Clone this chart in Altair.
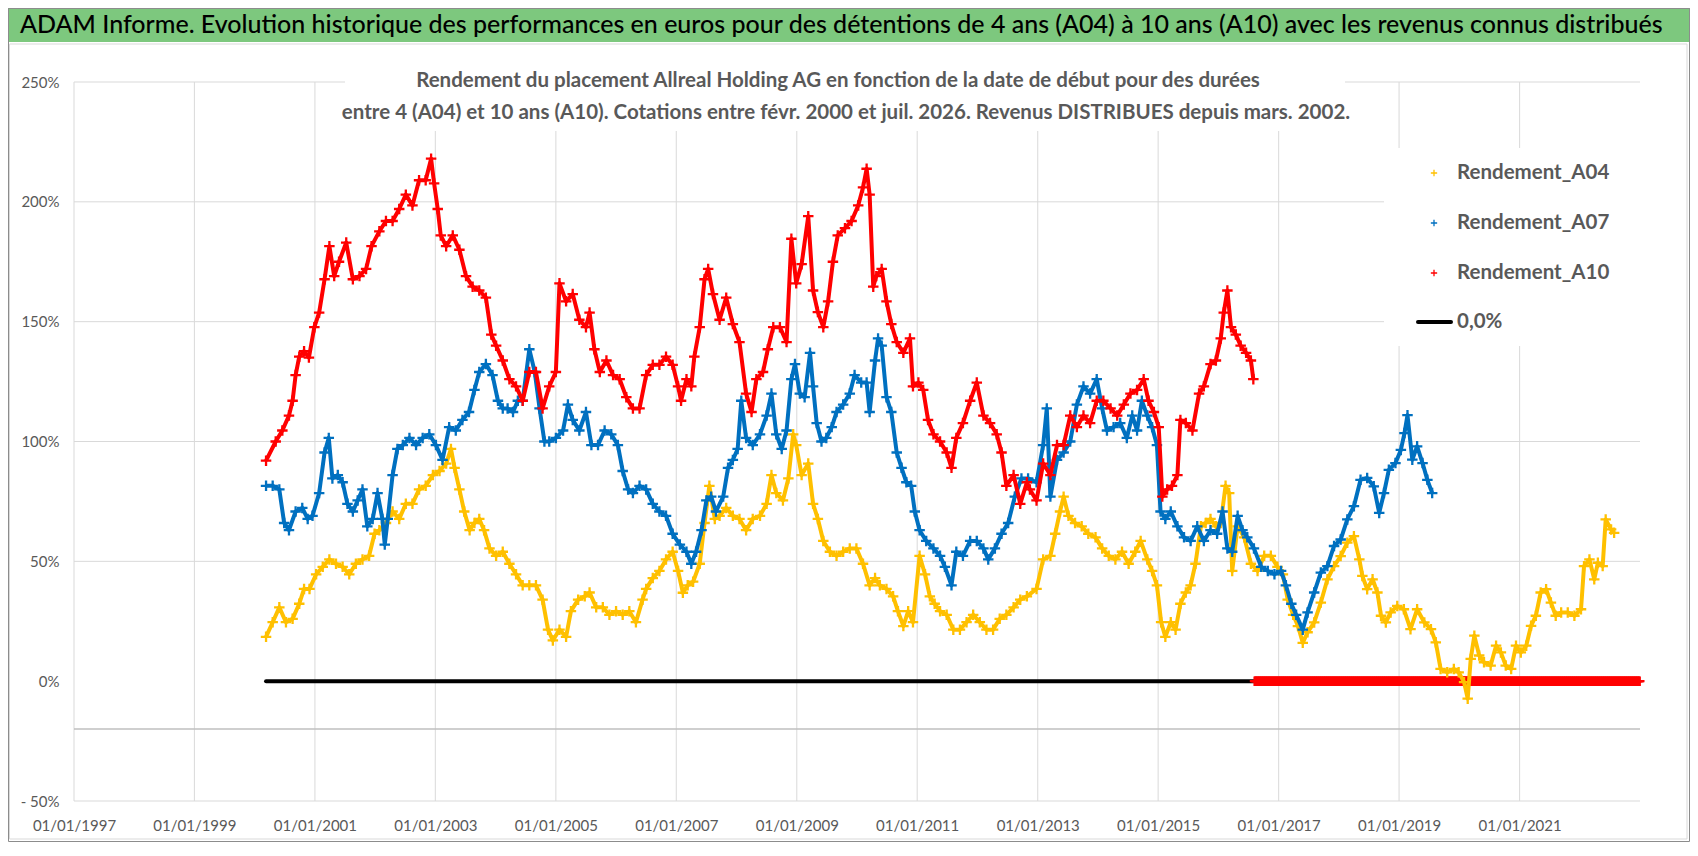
import altair as alt
import pandas as pd

# ---------------- data (decimal year, % return) ----------------
A04_t = [2000.19, 2000.30, 2000.41, 2000.52, 2000.63, 2000.74, 2000.82, 2000.91, 2001.02, 2001.13,
         2001.24, 2001.35, 2001.46, 2001.57, 2001.68, 2001.79, 2001.90, 2001.99, 2002.07, 2002.18,
         2002.29, 2002.40, 2002.51, 2002.62, 2002.73, 2002.84, 2002.96, 2003.07, 2003.18, 2003.26,
         2003.32, 2003.40, 2003.48, 2003.57, 2003.65, 2003.73, 2003.81, 2003.90, 2004.01, 2004.12,
         2004.23, 2004.34, 2004.45, 2004.56, 2004.67, 2004.78, 2004.87, 2004.95, 2005.06, 2005.17,
         2005.25, 2005.37, 2005.48, 2005.56, 2005.67, 2005.78, 2005.89, 2006.00, 2006.11, 2006.22,
         2006.33, 2006.44, 2006.50, 2006.61, 2006.72, 2006.83, 2006.94, 2007.03, 2007.11, 2007.19,
         2007.28, 2007.39, 2007.47, 2007.55, 2007.64, 2007.72, 2007.83, 2007.94, 2008.05, 2008.16,
         2008.27, 2008.39, 2008.50, 2008.58, 2008.66, 2008.77, 2008.86, 2008.94, 2008.99, 2009.08,
         2009.19, 2009.27, 2009.35, 2009.44, 2009.55, 2009.66, 2009.77, 2009.88, 2009.99, 2010.10,
         2010.21, 2010.30, 2010.38, 2010.49, 2010.60, 2010.68, 2010.77, 2010.85, 2010.93, 2011.04,
         2011.13, 2011.21, 2011.29, 2011.38, 2011.49, 2011.60, 2011.71, 2011.82, 2011.93, 2012.04,
         2012.15, 2012.26, 2012.37, 2012.48, 2012.60, 2012.71, 2012.82, 2012.98, 2013.09, 2013.21,
         2013.29, 2013.37, 2013.43, 2013.51, 2013.62, 2013.73, 2013.84, 2013.96, 2014.07, 2014.18,
         2014.29, 2014.40, 2014.51, 2014.62, 2014.71, 2014.82, 2014.90, 2014.98, 2015.05, 2015.12,
         2015.21, 2015.29, 2015.37, 2015.46, 2015.54, 2015.62, 2015.71, 2015.79, 2015.87, 2015.96,
         2016.04, 2016.12, 2016.18, 2016.23, 2016.32, 2016.43, 2016.54, 2016.65, 2016.76, 2016.87,
         2016.98, 2017.07, 2017.15, 2017.24, 2017.32, 2017.40, 2017.48, 2017.59, 2017.70, 2017.81,
         2017.92, 2018.03, 2018.14, 2018.25, 2018.34, 2018.39, 2018.47, 2018.56, 2018.64, 2018.70,
         2018.78, 2018.86, 2018.97, 2019.08, 2019.19, 2019.30, 2019.42, 2019.53, 2019.61, 2019.69,
         2019.80, 2019.91, 2019.99, 2020.08, 2020.14, 2020.19, 2020.25, 2020.33, 2020.41, 2020.52,
         2020.61, 2020.69, 2020.77, 2020.86, 2020.94, 2021.02, 2021.11, 2021.19, 2021.27, 2021.35,
         2021.44, 2021.52, 2021.60, 2021.69, 2021.80, 2021.91, 2022.02, 2022.07, 2022.16, 2022.24,
         2022.30, 2022.38, 2022.43, 2022.52, 2022.57]
A04_v = [18.5, 24.6, 30.8, 24.6, 26.0, 32.3, 38.5, 38.5, 44.6, 47.7,
         50.8, 49.0, 47.7, 44.6, 49.0, 50.8, 52.3, 61.5, 63.0, 66.0,
         70.8, 67.7, 74.0, 74.0, 80.0, 81.5, 86.0, 87.7, 90.8, 96.9,
         89.0, 80.0, 70.8, 63.0, 66.0, 67.7, 63.0, 55.4, 52.3, 54.0,
         49.0, 44.6, 40.0, 40.0, 40.0, 34.0, 21.5, 17.0, 21.5, 18.5,
         29.2, 34.0, 35.4, 37.0, 30.8, 30.8, 27.7, 29.2, 27.7, 29.2,
         24.6, 34.0, 38.5, 43.0, 46.0, 50.8, 54.0, 46.0, 36.9, 40.0,
         41.5, 49.0, 66.0, 81.5, 67.7, 69.0, 72.3, 69.0, 67.7, 63.0,
         67.7, 69.0, 74.0, 86.0, 78.5, 75.4, 84.6, 103.0, 98.5, 86.0,
         90.8, 74.0, 67.7, 58.5, 54.0, 52.3, 54.0, 55.4, 55.4, 49.0,
         40.0, 43.0, 40.0, 38.5, 35.4, 29.2, 23.0, 29.2, 24.6, 52.3,
         44.6, 35.4, 32.3, 29.2, 27.7, 21.5, 21.5, 24.6, 27.7, 24.6,
         21.5, 21.5, 26.0, 27.7, 30.8, 34.0, 35.4, 38.5, 50.8, 52.3,
         61.5, 70.8, 77.0, 69.0, 66.0, 64.6, 61.5, 60.0, 55.4, 52.3,
         50.8, 54.0, 49.0, 54.0, 58.5, 50.8, 46.0, 40.0, 24.6, 18.5,
         24.6, 21.5, 32.3, 37.0, 40.0, 49.0, 64.6, 66.0, 67.7, 64.6,
         66.0, 81.5, 78.5, 46.0, 64.6, 60.0, 49.0, 46.0, 52.3, 52.3,
         47.7, 44.6, 34.0, 27.7, 23.0, 16.0, 20.4, 24.5, 32.8, 42.5,
         48.0, 52.2, 57.8, 60.5, 50.8, 43.9, 38.4, 42.5, 37.0, 27.3,
         24.5, 28.7, 31.4, 30.0, 21.7, 30.0, 24.5, 21.7, 16.2, 5.1,
         3.7, 5.1, 3.7, -0.4, -7.3, 9.3, 19.0, 10.7, 7.9, 6.5,
         14.8, 12.0, 6.5, 5.1, 14.8, 12.0, 14.8, 23.1, 27.3, 37.0,
         38.4, 32.8, 27.3, 28.7, 28.7, 27.3, 30.0, 48.0, 50.8, 42.5,
         49.4, 48.0, 67.5, 63.3, 61.9]

A07_t = [2000.19, 2000.30, 2000.41, 2000.49, 2000.57, 2000.68, 2000.79, 2000.88, 2000.96, 2001.07,
         2001.16, 2001.23, 2001.29, 2001.38, 2001.46, 2001.54, 2001.63, 2001.71, 2001.79, 2001.87,
         2001.96, 2002.04, 2002.12, 2002.16, 2002.21, 2002.29, 2002.37, 2002.46, 2002.57, 2002.68,
         2002.79, 2002.90, 2003.01, 2003.12, 2003.23, 2003.34, 2003.45, 2003.56, 2003.65, 2003.73,
         2003.84, 2003.95, 2004.04, 2004.12, 2004.20, 2004.29, 2004.37, 2004.45, 2004.56, 2004.65,
         2004.73, 2004.81, 2004.89, 2005.00, 2005.12, 2005.20, 2005.28, 2005.39, 2005.50, 2005.59,
         2005.70, 2005.81, 2005.92, 2006.03, 2006.11, 2006.20, 2006.28, 2006.39, 2006.50, 2006.61,
         2006.72, 2006.83, 2006.94, 2007.06, 2007.17, 2007.25, 2007.33, 2007.42, 2007.50, 2007.58,
         2007.66, 2007.78, 2007.86, 2007.94, 2008.02, 2008.08, 2008.16, 2008.27, 2008.39, 2008.50,
         2008.58, 2008.66, 2008.75, 2008.83, 2008.91, 2008.97, 2009.05, 2009.13, 2009.22, 2009.27,
         2009.33, 2009.41, 2009.49, 2009.58, 2009.66, 2009.77, 2009.88, 2009.96, 2010.07, 2010.16,
         2010.21, 2010.30, 2010.35, 2010.41, 2010.49, 2010.57, 2010.66, 2010.74, 2010.82, 2010.90,
         2010.96, 2011.04, 2011.15, 2011.27, 2011.38, 2011.46, 2011.57, 2011.65, 2011.76, 2011.88,
         2011.99, 2012.10, 2012.18, 2012.29, 2012.40, 2012.51, 2012.62, 2012.73, 2012.84, 2012.98,
         2013.09, 2013.15, 2013.21, 2013.32, 2013.43, 2013.54, 2013.65, 2013.76, 2013.87, 2013.98,
         2014.07, 2014.15, 2014.26, 2014.37, 2014.48, 2014.57, 2014.65, 2014.73, 2014.82, 2014.90,
         2014.98, 2015.04, 2015.12, 2015.21, 2015.32, 2015.43, 2015.54, 2015.65, 2015.76, 2015.87,
         2015.98, 2016.07, 2016.15, 2016.23, 2016.32, 2016.40, 2016.48, 2016.59, 2016.71, 2016.82,
         2016.93, 2017.04, 2017.12, 2017.21, 2017.29, 2017.40, 2017.48, 2017.59, 2017.70, 2017.81,
         2017.92, 2018.03, 2018.14, 2018.25, 2018.36, 2018.47, 2018.58, 2018.67, 2018.75, 2018.83,
         2018.94, 2019.03, 2019.09, 2019.14, 2019.22, 2019.30, 2019.39, 2019.47, 2019.55]
A07_v = [81.5, 81.5, 80.0, 66.0, 63.0, 70.8, 72.3, 67.7, 69.0, 78.5,
         95.4, 101.5, 84.6, 86.0, 83.0, 74.0, 70.8, 75.4, 80.0, 64.6,
         67.7, 78.5, 67.7, 57.0, 67.7, 86.0, 96.9, 98.5, 101.5, 98.5,
         101.5, 103.0, 98.5, 92.3, 106.0, 104.6, 109.0, 112.3, 121.5, 129.0,
         132.3, 127.7, 117.0, 113.8, 113.8, 112.3, 117.0, 117.0, 138.5, 129.0,
         113.8, 100.0, 100.0, 101.5, 104.6, 115.4, 109.0, 104.6, 112.3, 98.5,
         98.5, 104.6, 103.0, 98.5, 87.7, 80.0, 78.5, 81.5, 80.0, 74.0,
         70.8, 69.0, 61.5, 57.0, 54.0, 49.0, 54.0, 63.0, 75.4, 77.0,
         70.8, 77.0, 89.0, 92.3, 96.9, 117.0, 101.5, 98.5, 103.0, 110.8,
         120.0, 103.0, 96.9, 104.6, 126.0, 132.3, 120.0, 118.5, 137.0, 123.0,
         107.7, 100.0, 101.5, 106.0, 112.3, 115.4, 120.0, 127.7, 124.6, 124.6,
         112.3, 133.8, 143.0, 140.0, 118.5, 112.3, 95.4, 89.0, 83.0, 81.5,
         70.8, 63.0, 58.5, 55.4, 52.3, 47.7, 40.0, 54.0, 52.3, 58.5,
         58.5, 55.4, 50.8, 55.4, 61.5, 66.0, 77.0, 84.6, 84.6, 83.0,
         98.5, 113.8, 77.0, 92.3, 95.4, 100.0, 115.4, 123.0, 120.0, 126.0,
         113.8, 104.6, 106.0, 107.7, 101.5, 110.8, 104.6, 117.0, 110.8, 106.0,
         98.5, 70.8, 67.7, 70.8, 64.6, 60.0, 58.5, 64.6, 58.5, 63.0,
         61.5, 70.8, 55.4, 54.0, 69.0, 63.0, 60.0, 55.4, 47.7, 46.0,
         44.6, 46.0, 40.0, 32.3, 27.7, 21.5, 28.7, 37.0, 45.3, 48.0,
         56.4, 59.1, 67.5, 73.0, 84.0, 84.8, 81.3, 70.2, 78.5, 88.2,
         91.0, 96.5, 103.5, 111.0, 92.4, 98.0, 91.0, 84.0, 78.5]

A10_t = [2000.19, 2000.35, 2000.46, 2000.57, 2000.63, 2000.68, 2000.74, 2000.82, 2000.90, 2000.99,
         2001.07, 2001.16, 2001.24, 2001.32, 2001.40, 2001.52, 2001.63, 2001.74, 2001.85, 2001.94,
         2002.07, 2002.18, 2002.29, 2002.40, 2002.51, 2002.62, 2002.73, 2002.84, 2002.93, 2002.98,
         2003.04, 2003.09, 2003.18, 2003.29, 2003.40, 2003.51, 2003.62, 2003.73, 2003.84, 2003.93,
         2004.01, 2004.12, 2004.23, 2004.34, 2004.45, 2004.56, 2004.67, 2004.78, 2004.89, 2005.00,
         2005.06, 2005.17, 2005.28, 2005.39, 2005.50, 2005.56, 2005.64, 2005.73, 2005.84, 2005.95,
         2006.06, 2006.17, 2006.28, 2006.39, 2006.50, 2006.61, 2006.72, 2006.83, 2006.94, 2007.03,
         2007.08, 2007.17, 2007.25, 2007.30, 2007.39, 2007.47, 2007.53, 2007.61, 2007.72, 2007.83,
         2007.94, 2008.05, 2008.16, 2008.25, 2008.33, 2008.44, 2008.52, 2008.61, 2008.72, 2008.83,
         2008.91, 2008.99, 2009.08, 2009.19, 2009.27, 2009.35, 2009.44, 2009.52, 2009.60, 2009.68,
         2009.80, 2009.91, 2010.02, 2010.10, 2010.16, 2010.21, 2010.27, 2010.32, 2010.41, 2010.49,
         2010.57, 2010.66, 2010.77, 2010.88, 2010.93, 2011.02, 2011.10, 2011.18, 2011.27, 2011.38,
         2011.49, 2011.57, 2011.65, 2011.76, 2011.88, 2011.99, 2012.10, 2012.21, 2012.32, 2012.40,
         2012.48, 2012.60, 2012.71, 2012.82, 2012.87, 2012.98, 2013.09, 2013.21, 2013.32, 2013.43,
         2013.54, 2013.65, 2013.76, 2013.87, 2013.98, 2014.09, 2014.21, 2014.32, 2014.43, 2014.54,
         2014.65, 2014.76, 2014.84, 2014.93, 2015.01, 2015.07, 2015.15, 2015.23, 2015.32, 2015.37,
         2015.46, 2015.57, 2015.68, 2015.76, 2015.87, 2015.96, 2016.04, 2016.09, 2016.15, 2016.21,
         2016.29, 2016.37, 2016.46, 2016.54, 2016.58]
A10_v = [92.0, 100.0, 104.6, 110.8, 117.0, 127.7, 135.4, 137.7, 135.0, 147.7,
         153.8, 167.7, 181.5, 169.0, 175.0, 183.0, 167.7, 169.0, 172.0, 181.5,
         187.7, 192.0, 192.0, 197.0, 203.0, 198.5, 209.0, 209.0, 218.0, 207.7,
         197.0, 186.0, 181.5, 186.0, 180.0, 169.0, 164.6, 163.0, 160.0, 144.6,
         140.0, 133.8, 126.0, 123.0, 117.0, 129.0, 129.0, 113.8, 123.0, 129.0,
         166.0, 158.5, 161.5, 150.8, 147.7, 153.8, 138.5, 129.0, 133.8, 127.7,
         126.0, 118.5, 113.8, 113.8, 127.7, 132.0, 132.0, 135.4, 132.0, 123.0,
         117.0, 126.0, 123.0, 135.4, 147.7, 167.7, 172.0, 161.5, 150.8, 160.0,
         149.0, 141.5, 120.0, 112.3, 126.0, 129.0, 138.5, 147.7, 147.7, 141.5,
         184.6, 166.0, 174.0, 194.0, 163.0, 154.0, 147.7, 158.5, 175.0, 186.0,
         189.0, 192.0, 198.5, 206.0, 213.8, 203.0, 164.6, 169.0, 172.0, 158.5,
         149.0, 141.5, 137.0, 143.0, 123.0, 124.6, 121.5, 109.0, 103.0, 100.0,
         95.4, 89.0, 101.5, 107.7, 117.0, 124.6, 110.8, 107.7, 103.0, 95.4,
         81.5, 86.0, 74.0, 83.0, 80.0, 75.4, 90.8, 86.0, 98.5, 98.5,
         110.8, 106.0, 110.8, 107.7, 117.0, 117.0, 113.8, 110.8, 115.4, 120.0,
         121.5, 126.0, 117.0, 112.3, 106.0, 77.0, 80.0, 81.5, 86.0, 109.0,
         107.7, 104.6, 120.0, 123.0, 132.3, 133.8, 143.0, 153.8, 163.0, 147.7,
         144.6, 140.0, 137.0, 133.8, 126.0]

# A10 shown at 0 after its last date, and the 0,0% reference line
ZERO_RED_START, ZERO_RED_END = 2016.60, 2023.00
ZERO_LINE = [2000.19, 2016.60]

SERIES = ["Rendement_A04", "Rendement_A07", "Rendement_A10"]
COLORS = ["#FFC000", "#0070C0", "#FF0000"]
X_TICK_YEARS = list(range(1997, 2022, 2))
Y_TICKS = [-50, 0, 50, 100, 150, 200, 250]
Y_GRID = [250, 200, 150, 100, 50, -50]
Y_AXIS_CROSS = -20

TITLE = ("ADAM Informe. Evolution historique des performances en euros pour des détentions "
         "de 4 ans (A04) à 10 ans (A10) avec les revenus connus distribués")
SUB1 = "Rendement du placement Allreal Holding AG en fonction de la date de début pour des durées"
SUB2 = ("entre 4 (A04) et 10 ans (A10). Cotations entre févr. 2000 et juil. 2026. "
        "Revenus DISTRIBUES depuis mars. 2002.")
LEGEND_LABELS = SERIES + ["0,0%"]

# ---------------- helpers ----------------
def yr2date(t):
    y = int(t)
    a = pd.Timestamp(year=y, month=1, day=1)
    b = pd.Timestamp(year=y + 1, month=1, day=1)
    return a + (b - a) * (t - y)

def series_df(ts, vs, name):
    return pd.DataFrame({"date": [yr2date(t) for t in ts], "value": vs, "serie": name})

W, H = 1566, 719
FONT = "Lato"
GRAY_TXT = "#595959"
PLUS = "M-1,0H1M0,-1V1"

xscale = alt.Scale(domain=[alt.DateTime(year=1997, month=1, date=1),
                           alt.DateTime(year=2023, month=1, date=1)])
yscale = alt.Scale(domain=[-50, 250], nice=False, zero=False)
XAX = alt.Axis(values=[alt.DateTime(year=y, month=1, date=1) for y in X_TICK_YEARS],
               format="%d/%m/%Y", title=None, grid=False, ticks=False, domain=False,
               labelFont=FONT, labelFontSize=15, labelColor=GRAY_TXT, labelPadding=17,
               labelFlush=False, labelOverlap=False)
YAX = alt.Axis(values=Y_TICKS, title=None, grid=False, ticks=False, domain=False,
               labelExpr="datum.value < 0 ? '- ' + (-datum.value) + '%' : datum.value + '%'",
               labelFont=FONT, labelFontSize=15, labelColor=GRAY_TXT, labelPadding=15,
               labelBaseline="middle")

def X(f):
    return alt.X(f, scale=xscale, axis=XAX)

def Y(f):
    return alt.Y(f, scale=yscale, axis=YAX)

one = pd.DataFrame({"k": [0]})

def px_rect(x, x2, y, y2, **kw):
    return alt.Chart(one).mark_rect(**kw).encode(
        x=alt.value(x), x2=alt.value(x2), y=alt.value(y), y2=alt.value(y2))

def px_text(txt, x, y, **kw):
    return alt.Chart(one).mark_text(text=txt, font=FONT, **kw).encode(
        x=alt.value(x), y=alt.value(y))

# ---------------- layers ----------------
frame = px_rect(-65.5, 1615.5, -73.5, 759.5, fillOpacity=0, stroke="#8c8c8c", strokeWidth=1)
inner = px_rect(-64.5, 1613, -38, 757, fillOpacity=0, stroke="#d9d9d9", strokeWidth=1)
title_bar = px_rect(-66, 1616, -74, -40, color="#7DC87E")

vgrid = alt.Chart(pd.DataFrame({"date": [pd.Timestamp(year=y, month=1, day=1) for y in X_TICK_YEARS]})).mark_rule(
    color="#D9D9D9", strokeWidth=1).encode(x=X("date:T"), y=alt.value(0), y2=alt.value(H))

hgrid = alt.Chart(pd.DataFrame({"v": Y_GRID})).mark_rule(color="#D9D9D9", strokeWidth=1).encode(
    y=Y("v:Q"), x=alt.value(0), x2=alt.value(W))

cross_axis = alt.Chart(pd.DataFrame({"v": [Y_AXIS_CROSS]})).mark_rule(color="#BFBFBF", strokeWidth=1.5).encode(
    y=Y("v:Q"), x=alt.value(0), x2=alt.value(W))

sub_box = px_rect(271, 1271, -22, 49, color="white")
leg_box = px_rect(1310, 1571, 66, 264, color="white")

zero_line = alt.Chart(pd.DataFrame({"d1": [yr2date(ZERO_LINE[0])], "d2": [yr2date(ZERO_LINE[1])], "v": [0]})).mark_rule(
    color="black", strokeWidth=4, strokeCap="round").encode(
    x=X("d1:T"), x2="d2:T", y=Y("v:Q"))

zero_dates = pd.date_range(yr2date(ZERO_RED_START), yr2date(ZERO_RED_END), freq="4D")
zero_red = alt.Chart(pd.DataFrame({"date": zero_dates, "value": [0.0] * len(zero_dates)})).mark_point(
    shape=PLUS, filled=False, size=90, strokeWidth=2.2, color="#FF0000", opacity=1).encode(
    x=X("date:T"), y=Y("value:Q"))

series_layers = []
for name, ts, vs, col in zip(SERIES, [A04_t, A07_t, A10_t], [A04_v, A07_v, A10_v], COLORS):
    df = series_df(ts, vs, name)
    base = alt.Chart(df)
    series_layers.append(base.mark_line(color=col, strokeWidth=4, opacity=1, strokeJoin="round").encode(
        x=X("date:T"), y=Y("value:Q")))
    series_layers.append(base.mark_point(shape=PLUS, filled=False, size=110, strokeWidth=2.3,
                                         opacity=1, color=col).encode(
        x=X("date:T"), y=Y("value:Q")))

title_txt = px_text(TITLE, -54, -57, fontSize=25, fontWeight=500, align="left", baseline="middle", color="black")
sub1 = px_text(SUB1, 764, -1, fontSize=20.5, fontWeight="bold", align="center", baseline="middle", color=GRAY_TXT)
sub2 = px_text(SUB2, 772, 31, fontSize=20.5, fontWeight="bold", align="center", baseline="middle", color=GRAY_TXT)

leg_rows = [91, 141, 191, 240]
legend_layers = []
for i, s in enumerate(SERIES):
    legend_layers.append(alt.Chart(one).mark_point(
        shape=PLUS, filled=False, size=40, strokeWidth=1.3, opacity=1, color=COLORS[i]).encode(
        x=alt.value(1360), y=alt.value(leg_rows[i])))
legend_layers.append(alt.Chart(one).mark_rule(color="black", strokeWidth=4, strokeCap="round").encode(
    x=alt.value(1344), x2=alt.value(1377), y=alt.value(leg_rows[3])))
for i, lab in enumerate(LEGEND_LABELS):
    legend_layers.append(px_text(lab, 1383, leg_rows[i], fontSize=20.5, fontWeight="bold",
                                 align="left", baseline="middle", color=GRAY_TXT))

chart = alt.layer(
    title_bar, frame, inner, vgrid, hgrid, cross_axis, sub_box, leg_box,
    zero_line, zero_red, *series_layers, title_txt, sub1, sub2, *legend_layers
).properties(
    width=W, height=H,
    padding={"left": 66, "top": 74, "right": 50, "bottom": 41},
    autosize=alt.AutoSizeParams(type="none"),
    background="white",
).configure_view(stroke=None)

chart.save("out.html", embed_options={"renderer": "svg", "actions": False})
